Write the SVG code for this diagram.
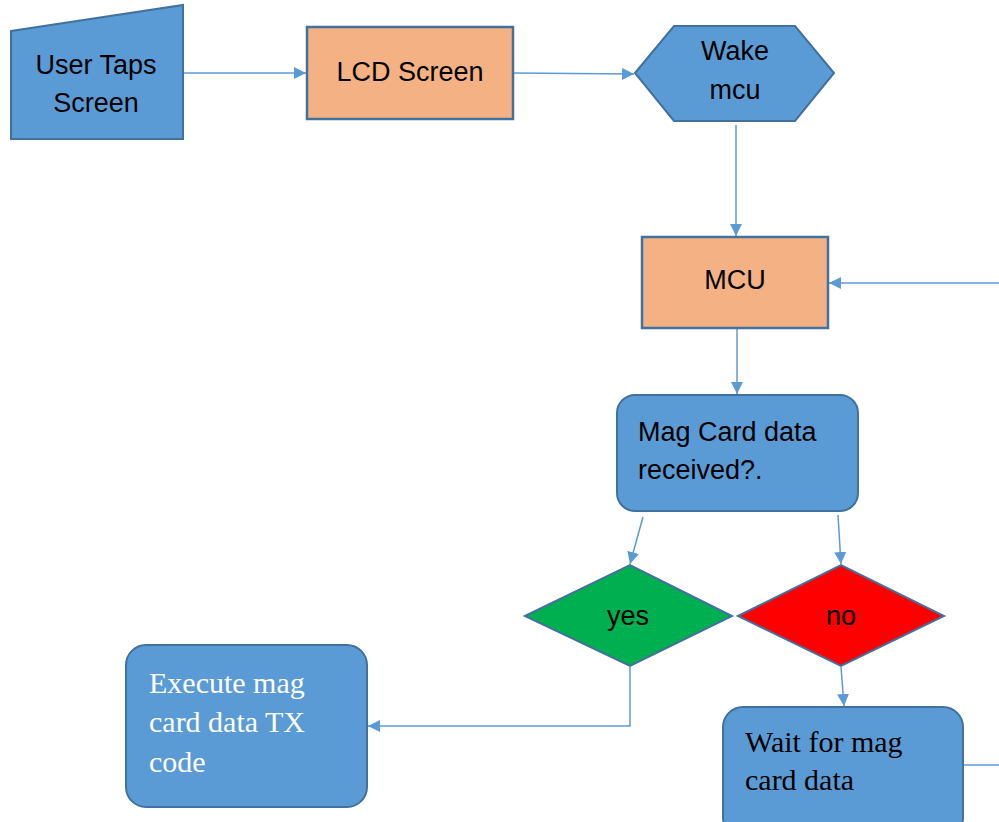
<svg xmlns="http://www.w3.org/2000/svg" width="999" height="822" viewBox="0 0 999 822">
<style>
.blue{fill:#5B9BD5;stroke:#41719C;stroke-width:2}
.orange{fill:#F4B183;stroke:#41719C;stroke-width:2.5}
.green{fill:#00B050;stroke:#41719C;stroke-width:2}
.red{fill:#FF0000;stroke:#41719C;stroke-width:2}
.conn{fill:none;stroke:#5B9BD5;stroke-width:1.5}
.sans{font-family:"Liberation Sans",Arial,sans-serif;font-size:27px;fill:#000}
.serif{font-family:"Liberation Serif","Times New Roman",serif;font-size:30px}
.mid{text-anchor:middle}
</style>
<defs>
<marker id="arr" viewBox="0 0 10 10" refX="10" refY="5" markerWidth="12" markerHeight="12" markerUnits="userSpaceOnUse" orient="auto">
<path d="M0,0 L10,5 L0,10 z" fill="#5B9BD5"/>
</marker>
</defs>
<rect width="999" height="822" fill="#fff"/>
<g id="connectors">
<line class="conn" x1="183" y1="73" x2="306" y2="73" marker-end="url(#arr)"/>
<line class="conn" x1="513" y1="73" x2="634" y2="74" marker-end="url(#arr)"/>
<line class="conn" x1="736" y1="125" x2="736" y2="236" marker-end="url(#arr)"/>
<line class="conn" x1="999" y1="283" x2="829" y2="283" marker-end="url(#arr)"/>
<line class="conn" x1="737" y1="329" x2="737" y2="394" marker-end="url(#arr)"/>
<line class="conn" x1="643" y1="517" x2="630" y2="564" marker-end="url(#arr)"/>
<line class="conn" x1="838" y1="515" x2="841" y2="564" marker-end="url(#arr)"/>
<polyline class="conn" points="630,667 630,726 368,726" marker-end="url(#arr)"/>
<line class="conn" x1="841" y1="667" x2="844" y2="706" marker-end="url(#arr)"/>
<line class="conn" x1="963" y1="765" x2="999" y2="765"/>
</g>
<g id="user-taps">
<polygon class="blue" points="11,31 183,5 183,139 11,139"/>
<text class="sans mid" x="96" y="74">User Taps</text>
<text class="sans mid" x="96" y="112">Screen</text>
</g>
<g id="lcd">
<rect class="orange" x="307" y="27" width="206" height="92"/>
<text class="sans mid" x="410" y="81">LCD Screen</text>
</g>
<g id="wake">
<polygon class="blue" points="635,73 674,26 795,26 834,73 795,121 674,121"/>
<text class="sans mid" x="735" y="60">Wake</text>
<text class="sans mid" x="735" y="99">mcu</text>
</g>
<g id="mcu">
<rect class="orange" x="642" y="237" width="186" height="91"/>
<text class="sans mid" x="735" y="289">MCU</text>
</g>
<g id="magcard">
<rect class="blue" x="617" y="395" width="241" height="116" rx="18"/>
<text class="sans" x="638" y="441">Mag Card data</text>
<text class="sans" x="638" y="479">received?.</text>
</g>
<g id="yes">
<polygon class="green" points="525,616 630,565 732,616 630,666"/>
<text class="sans mid" x="628" y="625">yes</text>
</g>
<g id="no">
<polygon class="red" points="738,616 841,565 944,616 841,666"/>
<text class="sans mid" x="841" y="625">no</text>
</g>
<g id="execute">
<rect class="blue" x="126" y="645" width="241" height="162" rx="20"/>
<text class="serif" fill="#fff" x="149" y="693">Execute mag</text>
<text class="serif" fill="#fff" x="149" y="732">card data TX</text>
<text class="serif" fill="#fff" x="149" y="772">code</text>
</g>
<g id="wait">
<rect class="blue" x="723" y="707" width="240" height="130" rx="20"/>
<text class="serif" fill="#000" x="745" y="752">Wait for mag</text>
<text class="serif" fill="#000" x="745" y="790">card data</text>
</g>
</svg>
